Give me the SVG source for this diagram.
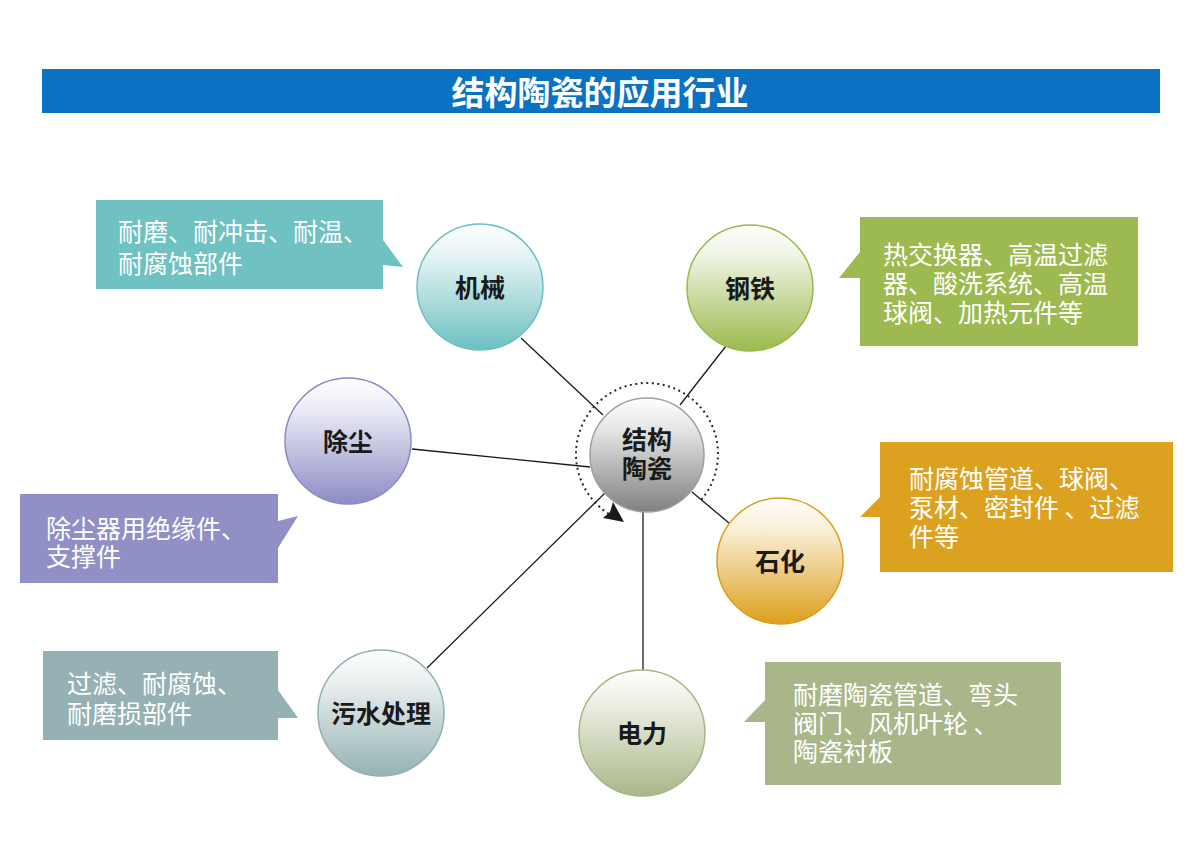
<svg xmlns="http://www.w3.org/2000/svg" width="1200" height="843" viewBox="0 0 1200 843">
<style>
.ct{font-family:"Noto Sans CJK SC","Noto Sans",sans-serif;font-size:25px;fill:#ffffff;}
.nl{font-family:"Noto Sans CJK SC","Noto Sans",sans-serif;font-size:25px;font-weight:bold;fill:#1a1a1a;text-anchor:middle;}
.ln{stroke:#1a1a1a;stroke-width:1.3;fill:none;}
.node{stroke-width:1.5;}
</style>
<defs>
<linearGradient id="gJ" x1="0" y1="0" x2="0" y2="1"><stop offset="0" stop-color="#ffffff"/><stop offset="0.25" stop-color="#e6f4f4"/><stop offset="1" stop-color="#6dc0c1"/></linearGradient>
<linearGradient id="gG" x1="0" y1="0" x2="0" y2="1"><stop offset="0" stop-color="#ffffff"/><stop offset="0.25" stop-color="#eef3e2"/><stop offset="1" stop-color="#9bbb4c"/></linearGradient>
<linearGradient id="gC" x1="0" y1="0" x2="0" y2="1"><stop offset="0" stop-color="#ffffff"/><stop offset="0.25" stop-color="#ebebf6"/><stop offset="1" stop-color="#8c8cc5"/></linearGradient>
<linearGradient id="gS" x1="0" y1="0" x2="0" y2="1"><stop offset="0" stop-color="#ffffff"/><stop offset="0.25" stop-color="#faefd6"/><stop offset="1" stop-color="#dc9f1c"/></linearGradient>
<linearGradient id="gW" x1="0" y1="0" x2="0" y2="1"><stop offset="0" stop-color="#ffffff"/><stop offset="0.25" stop-color="#eaf0f0"/><stop offset="1" stop-color="#95b2b4"/></linearGradient>
<linearGradient id="gP" x1="0" y1="0" x2="0" y2="1"><stop offset="0" stop-color="#ffffff"/><stop offset="0.25" stop-color="#eef0e6"/><stop offset="1" stop-color="#a9b787"/></linearGradient>
<linearGradient id="gM" x1="0" y1="0" x2="0" y2="1"><stop offset="0" stop-color="#ffffff"/><stop offset="0.3" stop-color="#e2e2e2"/><stop offset="1" stop-color="#808080"/></linearGradient>
</defs>
<rect width="1200" height="843" fill="#ffffff"/>
<g id="title">
<rect x="42" y="69" width="1118" height="44" fill="#0a72c2"/>
<text x="600" y="105" text-anchor="middle" font-family="'Noto Sans CJK SC','Noto Sans',sans-serif" font-size="33" font-weight="bold" fill="#ffffff">结构陶瓷的应用行业</text>
</g>
<g id="connectors">
<line class="ln" x1="521" y1="338" x2="603" y2="415"/>
<line class="ln" x1="726" y1="346" x2="680" y2="405"/>
<line class="ln" x1="412" y1="449" x2="590" y2="467"/>
<line class="ln" x1="692" y1="492" x2="729" y2="523"/>
<line class="ln" x1="643" y1="512" x2="643" y2="670"/>
<line class="ln" x1="427" y1="668" x2="605" y2="493"/>
<path d="M701.4,499.6 A71,71 0 1 0 613.7,516.7" fill="none" stroke="#2a2a2a" stroke-width="2" stroke-dasharray="2 3.5"/>
<polygon points="624,522 603,518 610,512 613,502" fill="#1a1a1a"/>
</g>
<g id="callout-jixie">
<polygon points="96,200 383,200 383,240 403,267 383,265 383,289 96,289" fill="#70c1c1"/>
<text class="ct" x="118" y="241">耐磨、耐冲击、耐温、<tspan x="118" y="273">耐腐蚀部件</tspan></text>
</g>
<g id="callout-gangtie">
<polygon points="860,217 1138,217 1138,346 860,346 860,278 839,278 860,252" fill="#9cba50"/>
<text class="ct" x="883" y="264" font-size="26">热交换器、高温过滤<tspan x="883" y="293">器、酸洗系统、高温</tspan><tspan x="883" y="322">球阀、加热元件等</tspan></text>
</g>
<g id="callout-chuchen">
<polygon points="20,494 278,494 278,521 298,516 278,548 278,583 20,583" fill="#9090c6"/>
<text class="ct" x="46" y="538">除尘器用绝缘件、<tspan x="46" y="566">支撑件</tspan></text>
</g>
<g id="callout-shihua">
<polygon points="880,442 1173,442 1173,572 880,572 880,517 860,517 880,497" fill="#dca21f"/>
<text class="ct" x="909" y="488" font-size="25.5">耐腐蚀管道、球阀、<tspan x="909" y="517">泵材、密封件 、过滤</tspan><tspan x="909" y="546">件等</tspan></text>
</g>
<g id="callout-wushui">
<polygon points="43,651 278,651 278,690 298,718 278,718 278,740 43,740" fill="#95b1b3"/>
<text class="ct" x="67" y="693">过滤、耐腐蚀、<tspan x="67" y="723">耐磨损部件</tspan></text>
</g>
<g id="callout-dianli">
<polygon points="765,662 1061,662 1061,785 765,785 765,722 744,722 765,700" fill="#a9b68a"/>
<text class="ct" x="793" y="704" font-size="26">耐磨陶瓷管道、弯头<tspan x="793" y="733">阀门、风机叶轮 、</tspan><tspan x="793" y="761">陶瓷衬板</tspan></text>
</g>
<g id="node-jixie">
<circle class="node" cx="480" cy="287" r="63" fill="url(#gJ)" stroke="#6cbfc0"/>
<text class="nl" x="480" y="297">机械</text>
</g>
<g id="node-gangtie">
<circle class="node" cx="750" cy="288" r="63" fill="url(#gG)" stroke="#98b84a"/>
<text class="nl" x="750" y="298">钢铁</text>
</g>
<g id="node-chuchen">
<circle class="node" cx="348" cy="441" r="63" fill="url(#gC)" stroke="#8a8ac4"/>
<text class="nl" x="348" y="451">除尘</text>
</g>
<g id="node-shihua">
<circle class="node" cx="780" cy="561" r="63" fill="url(#gS)" stroke="#d99e1a"/>
<text class="nl" x="780" y="571">石化</text>
</g>
<g id="node-wushui">
<circle class="node" cx="381" cy="713" r="63" fill="url(#gW)" stroke="#93afb1"/>
<text class="nl" x="381" y="723">污水处理</text>
</g>
<g id="node-dianli">
<circle class="node" cx="642" cy="733" r="63" fill="url(#gP)" stroke="#a7b584"/>
<text class="nl" x="642" y="743">电力</text>
</g>
<g id="node-center">
<circle class="node" cx="647" cy="455" r="57" fill="url(#gM)" stroke="#a0a0a0"/>
<text class="nl" x="647" y="449" font-size="26">结构<tspan x="647" y="478">陶瓷</tspan></text>
</g>
</svg>
